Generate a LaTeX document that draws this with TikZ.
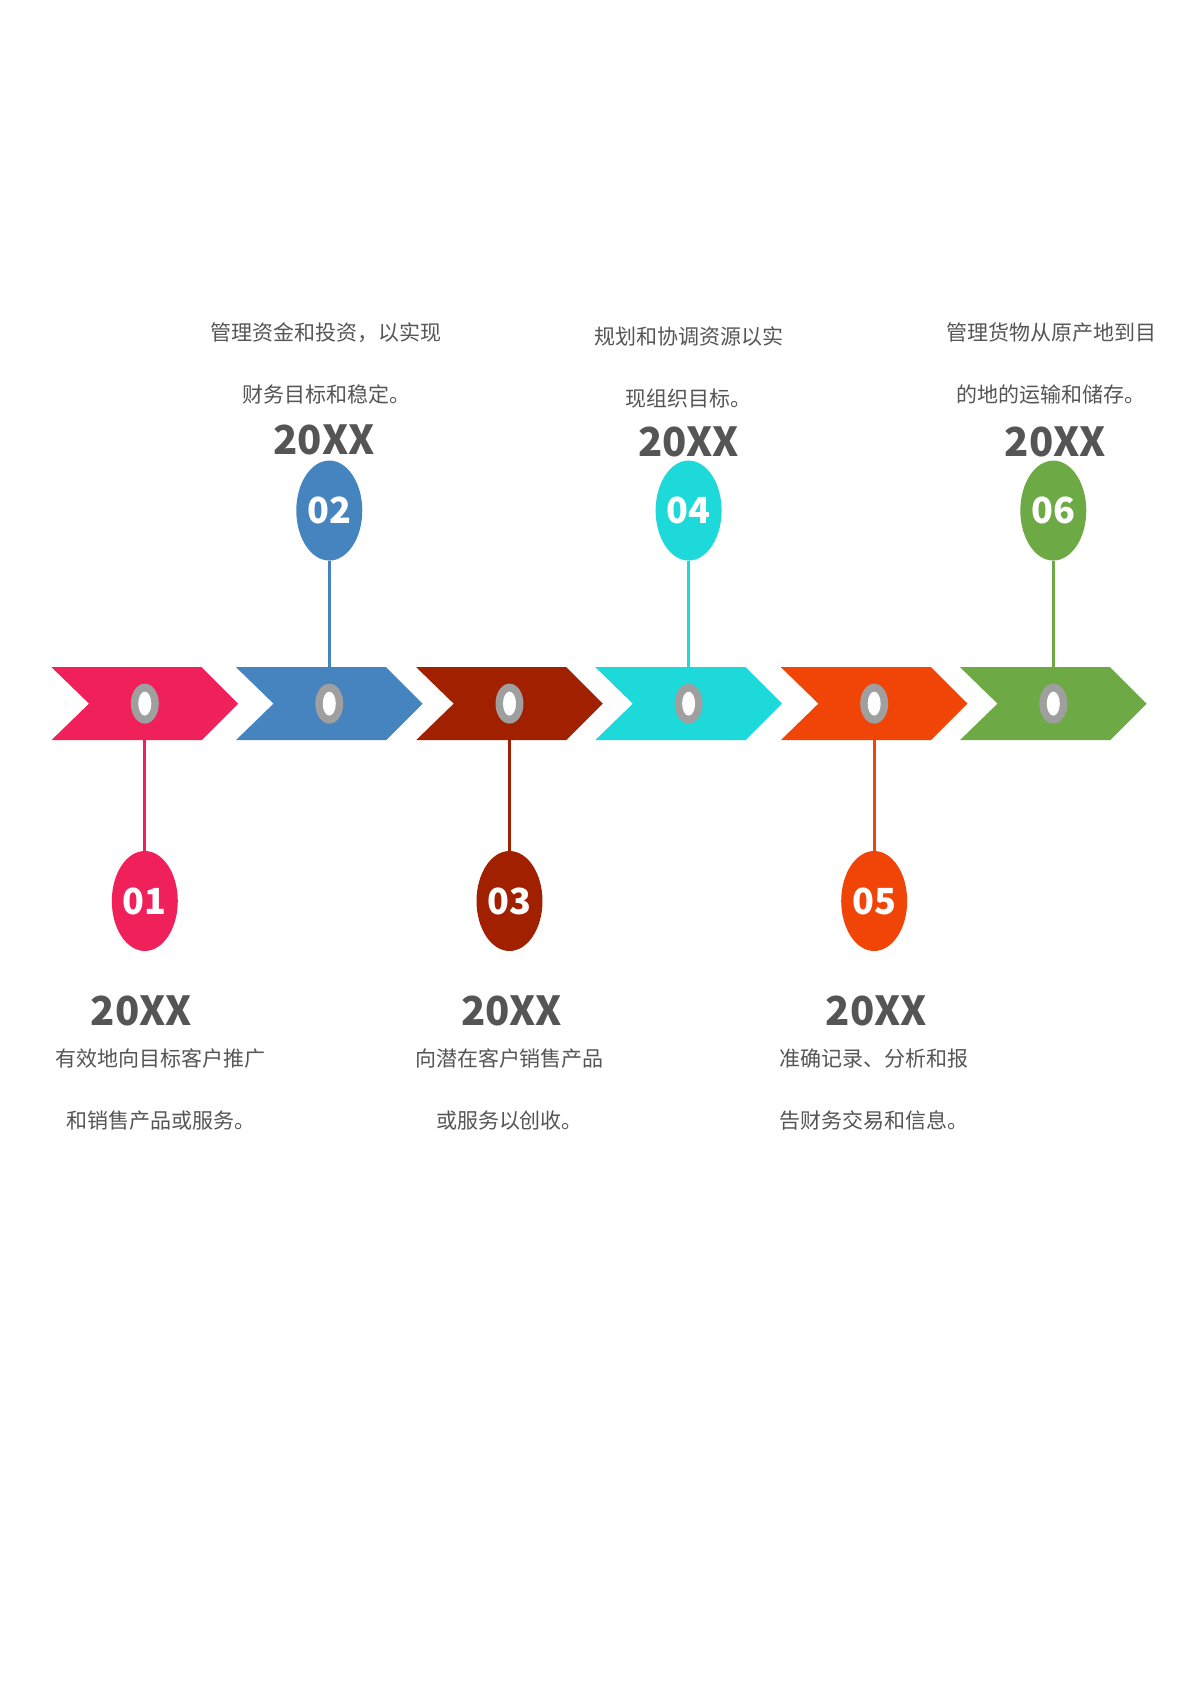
\documentclass[tikz,border=0pt]{standalone}
\usepackage{fontspec}
\setmainfont{Noto Sans CJK SC}
\usetikzlibrary{shapes.geometric}
\definecolor{cA}{HTML}{F0215A}
\definecolor{cB}{HTML}{4584BF}
\definecolor{cC}{HTML}{A02000}
\definecolor{cD}{HTML}{1DD9D9}
\definecolor{cE}{HTML}{F04506}
\definecolor{cF}{HTML}{6DAA45}
\definecolor{txt}{HTML}{555555}
\begin{document}
\begin{tikzpicture}[x=1.073pt, y=-1.073pt,
		badge/.style={ellipse, minimum width=66pt, minimum height=100pt, inner sep=0pt, text=white, font=\fontsize{36}{36}\selectfont\bfseries},
		year/.style={text=txt, font=\fontsize{40}{40}\selectfont\bfseries},
		note/.style={text=txt, font=\fontsize{21}{62}\selectfont, align=center},
		hole/.style={ellipse, minimum width=28pt, minimum height=40pt, inner sep=0pt, fill=gray!75}]
	\useasboundingbox (0,0) rectangle (1110,1570);
	% chevrons
	\foreach \n/\x/\c in {1/48/cA, 2/220/cB, 3/388/cC, 4/555/cD, 5/728/cE, 6/895/cF}{
	  \fill[\c] (\x,622) -- (\x+140,622) -- (\x+174,656) -- (\x+140,690) -- (\x,690) -- (\x+35,656) -- cycle;
	  \node[hole] (h\n) at (\x+87,656) {};
	  \node[ellipse, fill=white, minimum width=13pt, minimum height=24pt, inner sep=0pt] at (h\n) {};
	}
	% badges below
	\foreach \n/\c in {1/cA, 3/cC, 5/cE}{
	  \path (h\n) ++(0,184) node[badge, fill=\c] (b\n) {0\n};
	  \draw[\c, line width=3pt] (b\n.north) -- (h\n.south);
	}
	% badges above
	\foreach \n/\c in {2/cB, 4/cD, 6/cF}{
	  \path (h\n) ++(0,-180) node[badge, fill=\c] (b\n) {0\n};
	  \draw[\c, line width=3pt] (b\n.south) -- (h\n.north);
	}
	% years
	\node[year] (y1) at (132,942) {20XX};
	\node[year] (y3) at (477,942) {20XX};
	\node[year] (y5) at (817,942) {20XX};
	\node[year] (y2) at (302,410) {20XX};
	\node[year] (y4) at (642,412) {20XX};
	\node[year] (y6) at (984,412) {20XX};
	% notes
	\node[note] (t1) at (150,1016) {有效地向目标客户推广\\和销售产品或服务。};
	\node[note] (t3) at (475,1016) {向潜在客户销售产品\\或服务以创收。};
	\node[note] (t5) at (815,1016) {准确记录、分析和报\\告财务交易和信息。};
	\node[note] (t2) at (304,339) {管理资金和投资，以实现\\财务目标和稳定。};
	\node[note] (t4) at (642,343) {规划和协调资源以实\\现组织目标。};
	\node[note] (t6) at (980,339) {管理货物从原产地到目\\的地的运输和储存。};
\end{tikzpicture}
\end{document}
